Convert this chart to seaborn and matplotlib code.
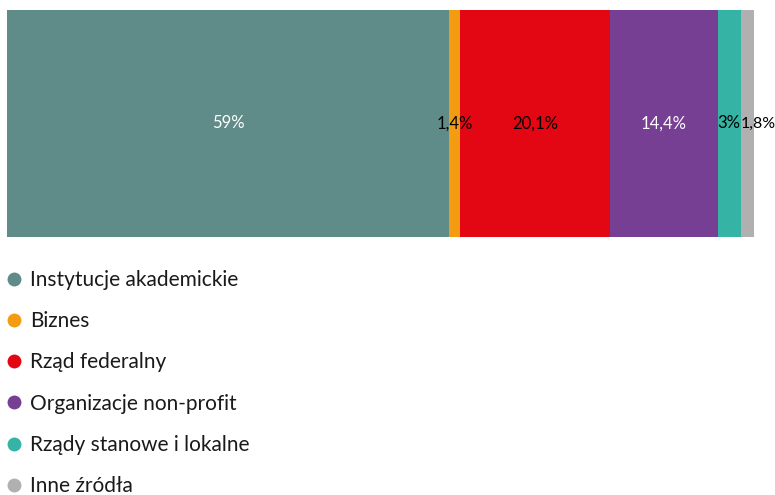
import matplotlib
matplotlib.use("Agg")
import matplotlib.pyplot as plt
import seaborn as sns
import numpy as np
import pandas as pd
from matplotlib.lines import Line2D

categories = ["Instytucje akademickie", "Biznes", "Rząd federalny",
              "Organizacje non-profit", "Rządy stanowe i lokalne", "Inne źródła"]
values = [59, 1.4, 20.1, 14.4, 3, 1.8]
labels = ["59%", "1,4%", "20,1%", "14,4%", "3%", "1,8%"]
colors = ["#5f8c89", "#f39c12", "#e30613", "#763f93", "#35b3a4", "#b0b0b0"]
label_colors = ["white", "black", "black", "white", "black", "black"]

sns.set_theme(style="white")
plt.rcParams['font.family'] = ['Lato', 'DejaVu Sans']

fig = plt.figure(figsize=(7.75, 4.95), dpi=100)
ax = fig.add_axes([7/775, 1-237/495, 747/775, 227/495])

cum = np.cumsum(values)
total = cum[-1]
df = pd.DataFrame({"row": ["a"] * len(values), "cum": cum, "cat": categories})
# draw from largest cumulative to smallest so segments stack
for i in range(len(values) - 1, -1, -1):
    sns.barplot(data=df.iloc[[i]], x="cum", y="row", color=colors[i],
                orient="h", width=1.0, ax=ax, saturation=1, linewidth=0)

starts = cum - np.array(values)
for i, (s, v) in enumerate(zip(starts, values)):
    if i == len(values) - 1:
        ax.text(s, 0, labels[i], ha="left", va="center",
                color=label_colors[i], fontsize=11.5, clip_on=False)
    else:
        ax.text(s + v / 2, 0, labels[i], ha="center", va="center",
                color=label_colors[i], fontsize=12)

ax.set_xlim(0, total)
ax.set_ylim(0.5, -0.5)
ax.axis("off")

handles = [Line2D([0], [0], marker="o", linestyle="", markersize=10,
                  markerfacecolor=c, markeredgewidth=0) for c in colors]
leg = fig.legend(handles, categories, loc="upper left", bbox_to_anchor=(5.7/775, 1 - 270/495),
                 frameon=False, fontsize=15, labelspacing=1.02, handletextpad=0.37,
                 handlelength=0.8, borderpad=0, borderaxespad=0)
for t in leg.get_texts():
    t.set_color("#1a1a1a")

fig.savefig("out.png", dpi=100)
